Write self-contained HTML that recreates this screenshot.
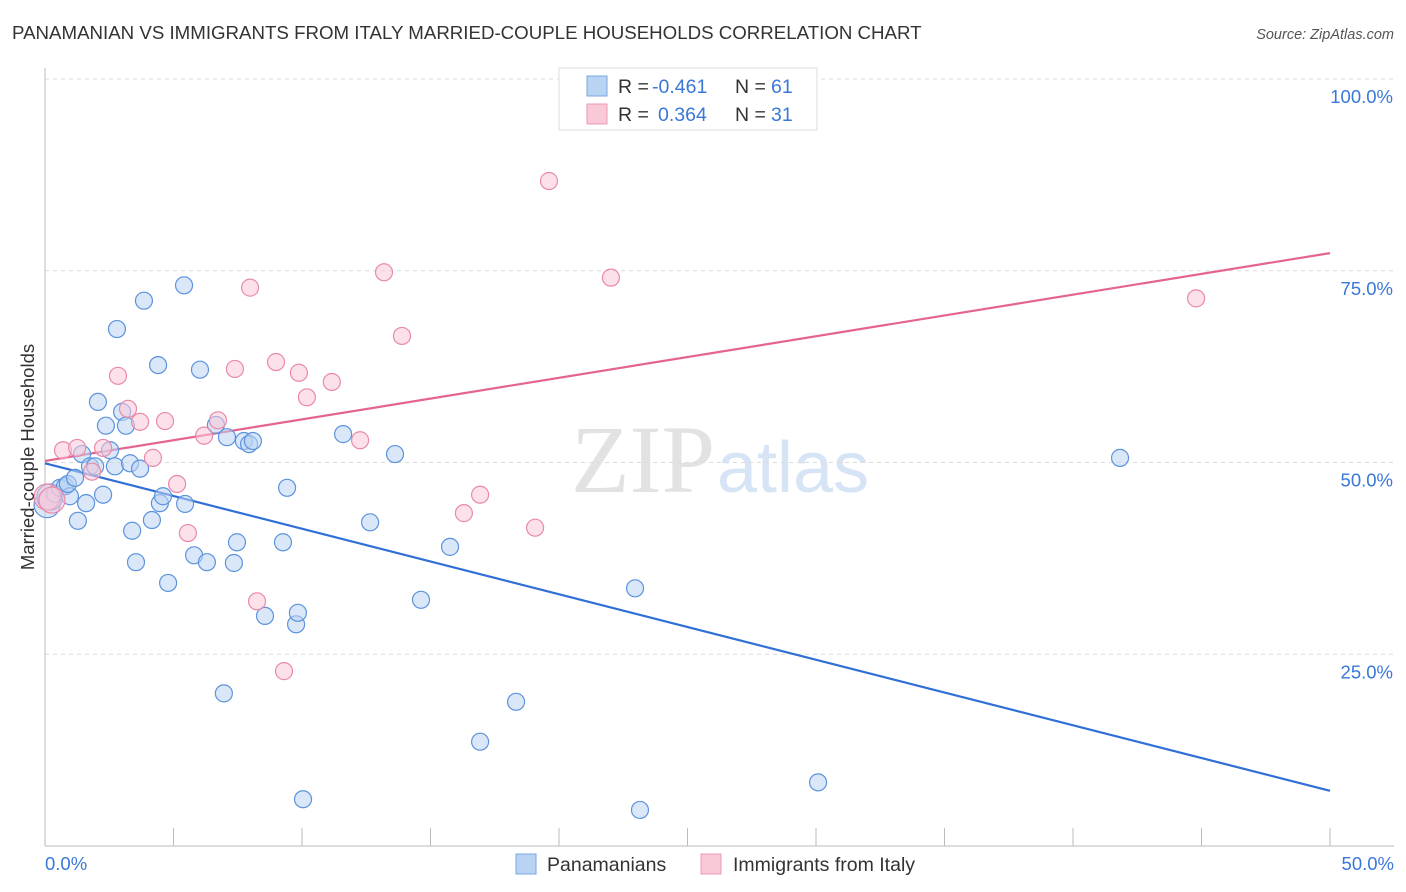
<!DOCTYPE html>
<html><head><meta charset="utf-8"><style>
body{margin:0;background:#fff;font-family:"Liberation Sans",sans-serif}
svg{display:block}
</style></head><body>
<svg id="chart" width="1406" height="892">
<text x="12" y="39" font-size="18.7" fill="#333">PANAMANIAN VS IMMIGRANTS FROM ITALY MARRIED-COUPLE HOUSEHOLDS CORRELATION CHART</text>
<text x="1394" y="39" font-size="14.5" fill="#555" font-style="italic" text-anchor="end">Source: ZipAtlas.com</text>
<text x="715" y="492" font-size="96" fill="#e2e2e2" text-anchor="end" font-family="Liberation Serif,serif">ZIP</text>
<text x="717" y="492" font-size="72" fill="#d6e4f5">atlas</text>
<g id="grid"></g><g id="axes"></g><g id="lines"></g><g id="pts"></g>
<text transform="translate(34,457) rotate(-90)" font-size="18.5" fill="#333" text-anchor="middle">Married-couple Households</text>
<g>
<rect x="559" y="68" width="258" height="62" fill="#fff" stroke="#ddd"/>
<rect x="587" y="76" width="20" height="20" fill="#b9d3f3" stroke="#7aa7e0"/>
<rect x="587" y="104" width="20" height="20" fill="#f9c9d8" stroke="#ec9ab4"/>
<text x="618" y="93" font-size="19.5" fill="#333">R =</text>
<text x="652" y="93" font-size="19.5" fill="#3a78d8">-0.461</text>
<text x="735" y="93" font-size="19.5" fill="#333">N =</text>
<text x="771" y="93" font-size="19.5" fill="#3a78d8">61</text>
<text x="618" y="121" font-size="19.5" fill="#333">R =</text>
<text x="658" y="121" font-size="19.5" fill="#3a78d8">0.364</text>
<text x="735" y="121" font-size="19.5" fill="#333">N =</text>
<text x="771" y="121" font-size="19.5" fill="#3a78d8">31</text>
</g>
<g>
<rect x="516" y="854" width="20" height="20" fill="#b9d3f3" stroke="#7aa7e0"/>
<text x="547" y="871" font-size="19.5" fill="#333">Panamanians</text>
<rect x="701" y="854" width="20" height="20" fill="#f9c9d8" stroke="#ec9ab4"/>
<text x="733" y="871" font-size="19.5" fill="#333">Immigrants from Italy</text>
</g>
</svg>
<script>
const blueX=[0.08,0.19,0.39,0.58,0.78,0.97,0.89,1.17,1.28,1.44,1.60,1.75,1.95,2.06,2.26,2.37,2.53,2.72,2.80,3.00,3.15,3.31,3.39,3.54,3.70,3.85,4.16,4.40,4.47,4.59,4.79,5.41,5.45,5.80,6.03,6.30,6.65,6.96,7.08,7.35,7.47,7.74,7.94,8.09,8.56,9.26,9.42,9.77,9.84,10.04,11.60,12.65,13.62,14.63,15.76,16.93,18.33,22.96,23.15,30.08,41.83];
const blueY=[44.5,45.5,45.9,46.7,46.9,45.6,47.2,48.0,42.4,51.1,44.7,49.5,49.5,57.9,45.8,54.8,51.6,49.5,67.4,56.6,54.8,49.9,41.1,37.0,49.2,71.1,42.5,62.7,44.7,45.6,34.3,73.1,44.6,37.9,62.1,37.0,54.9,19.9,53.3,36.9,39.6,52.8,52.4,52.8,30.0,39.6,46.7,28.9,30.4,6.1,53.7,42.2,51.1,32.1,39.0,13.6,18.8,33.6,4.7,8.3,50.6];
const pinkX=[0.08,0.27,0.70,1.25,1.83,2.26,2.84,3.23,3.70,4.20,4.67,5.14,5.56,6.19,6.73,7.39,7.98,8.25,8.99,9.30,9.88,10.19,11.16,12.26,13.19,13.89,16.30,16.93,19.07,19.61,22.02,44.79];
const pinkY=[45.5,45.1,51.6,51.9,48.8,51.9,61.3,57.0,55.3,50.6,55.4,47.2,40.8,53.5,55.5,62.2,72.8,31.9,63.1,22.8,61.7,58.5,60.5,52.9,74.8,66.5,43.4,45.8,41.5,86.7,74.1,71.4];
const blueTrend=[49.9,7.2];
const pinkTrend=[50.2,77.3];
const yTicks=[25,50,75,100];
const yTickLabels=["25.0%","50.0%","75.0%","100.0%"];
const xTicks=[0,5,10,15,20,25,30,35,40,45,50];

const NS="http://www.w3.org/2000/svg";
const sx=v=>45+v*25.7;
const sy=v=>846-v*7.67;
function mk(tag,attrs,parent){const e=document.createElementNS(NS,tag);for(const k in attrs)e.setAttribute(k,attrs[k]);document.getElementById(parent).appendChild(e);return e;}
yTicks.forEach((t,i)=>{
  const g=mk('line',{x1:45,x2:1394,y1:sy(t),y2:sy(t),stroke:'#dcdcdc','stroke-dasharray':'4,4'},'grid');
  
  
  const l=mk('text',{x:1393,y:sy(t)+24,'font-size':18.5,fill:'#3a78d8','text-anchor':'end'},'axes');
  l.textContent=yTickLabels[i];
  
  
});
mk('line',{x1:45,x2:1394,y1:846,y2:846,stroke:'#bbb'},'axes');
mk('line',{x1:45,x2:45,y1:68,y2:846,stroke:'#bbb'},'axes');
xTicks.forEach(t=>{
  const k=mk('line',{x1:sx(t),x2:sx(t),y1:828,y2:846,stroke:'#bbb'},'axes');
  
  
});
const x0=mk('text',{x:45,y:870,'font-size':18.5,fill:'#3a78d8'},'axes');x0.textContent='0.0%';


const x1=mk('text',{x:1394,y:870,'font-size':18.5,fill:'#3a78d8','text-anchor':'end'},'axes');x1.textContent='50.0%';


function pts(xs,ys,fill,stroke,name){
  xs.forEach((x,i)=>{
    const big=i<2&&x<0.3;
    const c=mk('circle',{cx:sx(x),cy:sy(ys[i]),r:big?13:8.5,fill:fill,'fill-opacity':0.55,stroke:stroke,'stroke-width':1.2},'pts');
    
    
  });
}
pts(blueX,blueY,'#b9d3f3','#5b93dd','panamanian-point');
pts(pinkX,pinkY,'#f9c9d8','#e88aa8','italy-point');
const bl=mk('line',{x1:sx(0),y1:sy(blueTrend[0]),x2:sx(50),y2:sy(blueTrend[1]),stroke:'#2f6fd6','stroke-width':2.2},'lines');


const pl=mk('line',{x1:sx(0),y1:sy(pinkTrend[0]),x2:sx(50),y2:sy(pinkTrend[1]),stroke:'#e5648e','stroke-width':2.2},'lines');


</script>
</body></html>
